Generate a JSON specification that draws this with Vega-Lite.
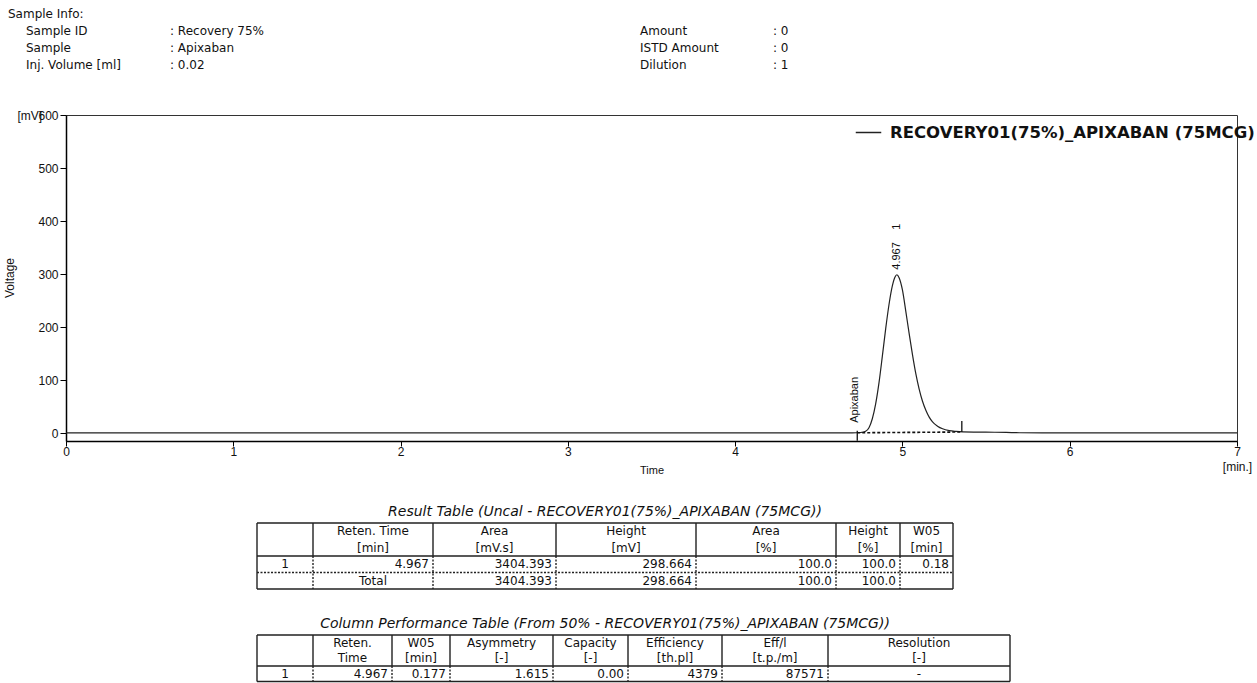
{
  "$schema": "https://vega.github.io/schema/vega-lite/v6.json",
  "background": "white",
  "padding": {"left": 3, "top": 0, "right": 0, "bottom": 0},
  "spacing": 0,
  "bounds": "flush",
  "datasets": {
    "info": [
      {"row": 0, "col": 0, "text": "Sample Info:"},
      {"row": 1, "col": 1, "text": "Sample ID"},
      {"row": 1, "col": 2, "text": ": Recovery 75%"},
      {"row": 1, "col": 3, "text": "Amount"},
      {"row": 1, "col": 4, "text": ": 0"},
      {"row": 2, "col": 1, "text": "Sample"},
      {"row": 2, "col": 2, "text": ": Apixaban"},
      {"row": 2, "col": 3, "text": "ISTD Amount"},
      {"row": 2, "col": 4, "text": ": 0"},
      {"row": 3, "col": 1, "text": "Inj. Volume [ml]"},
      {"row": 3, "col": 2, "text": ": 0.02"},
      {"row": 3, "col": 3, "text": "Dilution"},
      {"row": 3, "col": 4, "text": ": 1"}
    ],
    "trace": [
      {"t": 0.0, "mv": 0.3, "series": "RECOVERY01(75%)_APIXABAN (75MCG)"},
      {"t": 0.5, "mv": 0.3, "series": "RECOVERY01(75%)_APIXABAN (75MCG)"},
      {"t": 1.0, "mv": 0.2, "series": "RECOVERY01(75%)_APIXABAN (75MCG)"},
      {"t": 1.5, "mv": 0.3, "series": "RECOVERY01(75%)_APIXABAN (75MCG)"},
      {"t": 2.0, "mv": 0.2, "series": "RECOVERY01(75%)_APIXABAN (75MCG)"},
      {"t": 2.5, "mv": 0.3, "series": "RECOVERY01(75%)_APIXABAN (75MCG)"},
      {"t": 3.0, "mv": 0.2, "series": "RECOVERY01(75%)_APIXABAN (75MCG)"},
      {"t": 3.5, "mv": 0.3, "series": "RECOVERY01(75%)_APIXABAN (75MCG)"},
      {"t": 4.0, "mv": 0.3, "series": "RECOVERY01(75%)_APIXABAN (75MCG)"},
      {"t": 4.5, "mv": 0.4, "series": "RECOVERY01(75%)_APIXABAN (75MCG)"},
      {"t": 4.7, "mv": 0.5, "series": "RECOVERY01(75%)_APIXABAN (75MCG)"},
      {"t": 4.75, "mv": 1.0, "series": "RECOVERY01(75%)_APIXABAN (75MCG)"},
      {"t": 4.78, "mv": 3.5, "series": "RECOVERY01(75%)_APIXABAN (75MCG)"},
      {"t": 4.8, "mv": 10, "series": "RECOVERY01(75%)_APIXABAN (75MCG)"},
      {"t": 4.82, "mv": 27, "series": "RECOVERY01(75%)_APIXABAN (75MCG)"},
      {"t": 4.84, "mv": 55, "series": "RECOVERY01(75%)_APIXABAN (75MCG)"},
      {"t": 4.86, "mv": 95, "series": "RECOVERY01(75%)_APIXABAN (75MCG)"},
      {"t": 4.88, "mv": 145, "series": "RECOVERY01(75%)_APIXABAN (75MCG)"},
      {"t": 4.9, "mv": 197, "series": "RECOVERY01(75%)_APIXABAN (75MCG)"},
      {"t": 4.92, "mv": 243, "series": "RECOVERY01(75%)_APIXABAN (75MCG)"},
      {"t": 4.94, "mv": 278, "series": "RECOVERY01(75%)_APIXABAN (75MCG)"},
      {"t": 4.955, "mv": 294, "series": "RECOVERY01(75%)_APIXABAN (75MCG)"},
      {"t": 4.967, "mv": 298.664, "series": "RECOVERY01(75%)_APIXABAN (75MCG)"},
      {"t": 4.98, "mv": 293, "series": "RECOVERY01(75%)_APIXABAN (75MCG)"},
      {"t": 5.0, "mv": 270, "series": "RECOVERY01(75%)_APIXABAN (75MCG)"},
      {"t": 5.02, "mv": 230, "series": "RECOVERY01(75%)_APIXABAN (75MCG)"},
      {"t": 5.04, "mv": 188, "series": "RECOVERY01(75%)_APIXABAN (75MCG)"},
      {"t": 5.06, "mv": 148, "series": "RECOVERY01(75%)_APIXABAN (75MCG)"},
      {"t": 5.08, "mv": 112, "series": "RECOVERY01(75%)_APIXABAN (75MCG)"},
      {"t": 5.1, "mv": 83, "series": "RECOVERY01(75%)_APIXABAN (75MCG)"},
      {"t": 5.12, "mv": 60, "series": "RECOVERY01(75%)_APIXABAN (75MCG)"},
      {"t": 5.14, "mv": 43, "series": "RECOVERY01(75%)_APIXABAN (75MCG)"},
      {"t": 5.16, "mv": 30, "series": "RECOVERY01(75%)_APIXABAN (75MCG)"},
      {"t": 5.18, "mv": 21, "series": "RECOVERY01(75%)_APIXABAN (75MCG)"},
      {"t": 5.21, "mv": 13, "series": "RECOVERY01(75%)_APIXABAN (75MCG)"},
      {"t": 5.24, "mv": 8, "series": "RECOVERY01(75%)_APIXABAN (75MCG)"},
      {"t": 5.28, "mv": 4.5, "series": "RECOVERY01(75%)_APIXABAN (75MCG)"},
      {"t": 5.32, "mv": 3.0, "series": "RECOVERY01(75%)_APIXABAN (75MCG)"},
      {"t": 5.36, "mv": 2.2, "series": "RECOVERY01(75%)_APIXABAN (75MCG)"},
      {"t": 5.45, "mv": 1.8, "series": "RECOVERY01(75%)_APIXABAN (75MCG)"},
      {"t": 5.55, "mv": 1.5, "series": "RECOVERY01(75%)_APIXABAN (75MCG)"},
      {"t": 5.62, "mv": 1.2, "series": "RECOVERY01(75%)_APIXABAN (75MCG)"},
      {"t": 5.7, "mv": 0.6, "series": "RECOVERY01(75%)_APIXABAN (75MCG)"},
      {"t": 6.0, "mv": 0.4, "series": "RECOVERY01(75%)_APIXABAN (75MCG)"},
      {"t": 6.5, "mv": 0.3, "series": "RECOVERY01(75%)_APIXABAN (75MCG)"},
      {"t": 7.0, "mv": 0.3, "series": "RECOVERY01(75%)_APIXABAN (75MCG)"}
    ],
    "peaks": [
      {"id": 1, "name": "Apixaban", "rt": 4.967, "height": 298.664, "start": 4.73, "startLevel": 0.5, "end": 5.355, "endLevel": 2.0}
    ],
    "resultCells": [
      {"kind": "head", "col": 1, "line": 0, "text": "Reten. Time"},
      {"kind": "head", "col": 2, "line": 0, "text": "Area"},
      {"kind": "head", "col": 3, "line": 0, "text": "Height"},
      {"kind": "head", "col": 4, "line": 0, "text": "Area"},
      {"kind": "head", "col": 5, "line": 0, "text": "Height"},
      {"kind": "head", "col": 6, "line": 0, "text": "W05"},
      {"kind": "head", "col": 1, "line": 1, "text": "[min]"},
      {"kind": "head", "col": 2, "line": 1, "text": "[mV.s]"},
      {"kind": "head", "col": 3, "line": 1, "text": "[mV]"},
      {"kind": "head", "col": 4, "line": 1, "text": "[%]"},
      {"kind": "head", "col": 5, "line": 1, "text": "[%]"},
      {"kind": "head", "col": 6, "line": 1, "text": "[min]"},
      {"kind": "label", "col": 0, "line": 2, "text": "1"},
      {"kind": "value", "col": 1, "line": 2, "text": "4.967"},
      {"kind": "value", "col": 2, "line": 2, "text": "3404.393"},
      {"kind": "value", "col": 3, "line": 2, "text": "298.664"},
      {"kind": "value", "col": 4, "line": 2, "text": "100.0"},
      {"kind": "value", "col": 5, "line": 2, "text": "100.0"},
      {"kind": "value", "col": 6, "line": 2, "text": "0.18"},
      {"kind": "label", "col": 1, "line": 3, "text": "Total"},
      {"kind": "value", "col": 2, "line": 3, "text": "3404.393"},
      {"kind": "value", "col": 3, "line": 3, "text": "298.664"},
      {"kind": "value", "col": 4, "line": 3, "text": "100.0"},
      {"kind": "value", "col": 5, "line": 3, "text": "100.0"}
    ],
    "resultGrid": [
      {"part": "frame", "c1": 0, "c2": 7, "r1": -0.5, "r2": -0.5},
      {"part": "frame", "c1": 0, "c2": 7, "r1": 1.5, "r2": 1.5},
      {"part": "frame", "c1": 0, "c2": 7, "r1": 3.5, "r2": 3.5},
      {"part": "frame", "c1": 0, "c2": 0, "r1": -0.5, "r2": 3.5},
      {"part": "frame", "c1": 7, "c2": 7, "r1": -0.5, "r2": 3.5},
      {"part": "frame", "c1": 1, "c2": 1, "r1": -0.5, "r2": 1.5},
      {"part": "frame", "c1": 2, "c2": 2, "r1": -0.5, "r2": 1.5},
      {"part": "frame", "c1": 3, "c2": 3, "r1": -0.5, "r2": 1.5},
      {"part": "frame", "c1": 4, "c2": 4, "r1": -0.5, "r2": 1.5},
      {"part": "frame", "c1": 5, "c2": 5, "r1": -0.5, "r2": 1.5},
      {"part": "frame", "c1": 6, "c2": 6, "r1": -0.5, "r2": 1.5},
      {"part": "body", "c1": 0, "c2": 7, "r1": 2.5, "r2": 2.5},
      {"part": "body", "c1": 1, "c2": 1, "r1": 1.5, "r2": 3.5},
      {"part": "body", "c1": 2, "c2": 2, "r1": 1.5, "r2": 3.5},
      {"part": "body", "c1": 3, "c2": 3, "r1": 1.5, "r2": 3.5},
      {"part": "body", "c1": 4, "c2": 4, "r1": 1.5, "r2": 3.5},
      {"part": "body", "c1": 5, "c2": 5, "r1": 1.5, "r2": 3.5},
      {"part": "body", "c1": 6, "c2": 6, "r1": 1.5, "r2": 3.5}
    ],
    "perfCells": [
      {"kind": "head", "col": 1, "line": 0, "text": "Reten."},
      {"kind": "head", "col": 2, "line": 0, "text": "W05"},
      {"kind": "head", "col": 3, "line": 0, "text": "Asymmetry"},
      {"kind": "head", "col": 4, "line": 0, "text": "Capacity"},
      {"kind": "head", "col": 5, "line": 0, "text": "Efficiency"},
      {"kind": "head", "col": 6, "line": 0, "text": "Eff/l"},
      {"kind": "head", "col": 7, "line": 0, "text": "Resolution"},
      {"kind": "head", "col": 1, "line": 1, "text": "Time"},
      {"kind": "head", "col": 2, "line": 1, "text": "[min]"},
      {"kind": "head", "col": 3, "line": 1, "text": "[-]"},
      {"kind": "head", "col": 4, "line": 1, "text": "[-]"},
      {"kind": "head", "col": 5, "line": 1, "text": "[th.pl]"},
      {"kind": "head", "col": 6, "line": 1, "text": "[t.p./m]"},
      {"kind": "head", "col": 7, "line": 1, "text": "[-]"},
      {"kind": "label", "col": 0, "line": 2, "text": "1"},
      {"kind": "value", "col": 1, "line": 2, "text": "4.967"},
      {"kind": "value", "col": 2, "line": 2, "text": "0.177"},
      {"kind": "value", "col": 3, "line": 2, "text": "1.615"},
      {"kind": "value", "col": 4, "line": 2, "text": "0.00"},
      {"kind": "value", "col": 5, "line": 2, "text": "4379"},
      {"kind": "value", "col": 6, "line": 2, "text": "87571"},
      {"kind": "label", "col": 7, "line": 2, "text": "-"}
    ],
    "perfGrid": [
      {"part": "frame", "c1": 0, "c2": 8, "r1": -0.5, "r2": -0.5},
      {"part": "frame", "c1": 0, "c2": 8, "r1": 1.5, "r2": 1.5},
      {"part": "frame", "c1": 0, "c2": 8, "r1": 2.5, "r2": 2.5},
      {"part": "frame", "c1": 0, "c2": 0, "r1": -0.5, "r2": 2.5},
      {"part": "frame", "c1": 8, "c2": 8, "r1": -0.5, "r2": 2.5},
      {"part": "frame", "c1": 1, "c2": 1, "r1": -0.5, "r2": 1.5},
      {"part": "frame", "c1": 2, "c2": 2, "r1": -0.5, "r2": 1.5},
      {"part": "frame", "c1": 3, "c2": 3, "r1": -0.5, "r2": 1.5},
      {"part": "frame", "c1": 4, "c2": 4, "r1": -0.5, "r2": 1.5},
      {"part": "frame", "c1": 5, "c2": 5, "r1": -0.5, "r2": 1.5},
      {"part": "frame", "c1": 6, "c2": 6, "r1": -0.5, "r2": 1.5},
      {"part": "frame", "c1": 7, "c2": 7, "r1": -0.5, "r2": 1.5},
      {"part": "body", "c1": 1, "c2": 1, "r1": 1.5, "r2": 2.5},
      {"part": "body", "c1": 2, "c2": 2, "r1": 1.5, "r2": 2.5},
      {"part": "body", "c1": 3, "c2": 3, "r1": 1.5, "r2": 2.5},
      {"part": "body", "c1": 4, "c2": 4, "r1": 1.5, "r2": 2.5},
      {"part": "body", "c1": 5, "c2": 5, "r1": 1.5, "r2": 2.5},
      {"part": "body", "c1": 6, "c2": 6, "r1": 1.5, "r2": 2.5},
      {"part": "body", "c1": 7, "c2": 7, "r1": 1.5, "r2": 2.5}
    ]
  },
  "vconcat": [
    {
      "width": 1171,
      "height": 115,
      "data": {"name": "info"},
      "mark": {"type": "text", "align": "left", "baseline": "middle", "font": "DejaVu Sans", "fontSize": 12},
      "encoding": {
        "x": {"field": "col", "type": "quantitative", "axis": null,
              "scale": {"domain": [0, 1, 2, 3, 4], "range": [-58, -40, 104, 574, 707], "nice": false, "zero": false}},
        "y": {"field": "row", "type": "quantitative", "axis": null,
              "scale": {"domain": [0, 3], "range": [14, 65], "nice": false, "zero": false}},
        "text": {"field": "text"}
      }
    },
    {
      "width": 1171,
      "height": 326,
      "view": {"stroke": "#333", "strokeWidth": 1},
      "title": {"text": "Voltage", "orient": "left", "anchor": "middle", "offset": 0,
                "fontSize": 12, "fontWeight": "normal", "color": "#111"},
      "layer": [
        {
          "data": {"name": "trace"},
          "mark": {"type": "line", "strokeWidth": 1.2, "interpolate": "monotone"},
          "encoding": {
            "x": {"field": "t", "type": "quantitative",
                  "scale": {"domain": [0, 7], "nice": false, "zero": false},
                  "axis": {"title": "Time", "values": [0, 1, 2, 3, 4, 5, 6, 7], "format": "d",
                           "labelExpr": "datum.value == 7 ? ['7', '[min.]'] : datum.label",
                           "labelFlush": false, "labelOverlap": false, "labelBound": false,
                           "tickSize": 5, "labelPadding": 0, "labelFontSize": 12, "labelLineHeight": 15,
                           "labelColor": "#111", "tickColor": "#000", "domainColor": "#000", "domainWidth": 1.5,
                           "grid": false, "titleFontSize": 11, "titleFontWeight": "normal", "titleColor": "#111",
                           "titleY": 29, "titleBaseline": "middle"}},
            "y": {"field": "mv", "type": "quantitative",
                  "scale": {"domain": [-15, 600], "nice": false, "zero": false},
                  "axis": {"title": "[mV]", "values": [0, 100, 200, 300, 400, 500, 600],
                           "tickSize": 6, "labelPadding": 2, "labelFontSize": 12, "labelColor": "#111",
                           "tickColor": "#000", "domainColor": "#000", "domainWidth": 1.5, "grid": false,
                           "titleAngle": 0, "titleX": -49, "titleY": 0, "titleAlign": "left",
                           "titleBaseline": "middle", "titleFontSize": 12, "titleFontWeight": "normal",
                           "titleColor": "#111"}},
            "stroke": {"field": "series", "type": "nominal", "scale": {"range": ["#222222"]},
                       "legend": {"title": null, "orient": "none", "legendX": 789, "legendY": 119,
                                  "symbolType": "stroke", "symbolSize": 650, "symbolStrokeWidth": 1.5,
                                  "labelFont": "DejaVu Sans", "labelFontWeight": "bold", "labelFontSize": 16.5,
                                  "labelColor": "#111", "labelOffset": 8, "labelLimit": 0, "padding": 0}}
          }
        },
        {
          "data": {"name": "peaks"},
          "mark": {"type": "rule", "color": "#111", "strokeWidth": 1.6, "strokeDash": [3, 2]},
          "encoding": {
            "x": {"field": "start", "type": "quantitative"},
            "x2": {"field": "end"},
            "y": {"field": "startLevel", "type": "quantitative"},
            "y2": {"field": "endLevel"}
          }
        },
        {
          "data": {"name": "peaks"},
          "mark": {"type": "rule", "color": "#111", "strokeWidth": 1.3, "yOffset": -2, "y2Offset": 8},
          "encoding": {
            "x": {"field": "start", "type": "quantitative"},
            "y": {"field": "startLevel", "type": "quantitative"},
            "y2": {"field": "startLevel"}
          }
        },
        {
          "data": {"name": "peaks"},
          "mark": {"type": "rule", "color": "#111", "strokeWidth": 1.3, "yOffset": -11, "y2Offset": 0},
          "encoding": {
            "x": {"field": "end", "type": "quantitative"},
            "y": {"field": "endLevel", "type": "quantitative"},
            "y2": {"field": "endLevel"}
          }
        },
        {
          "data": {"name": "peaks"},
          "mark": {"type": "text", "angle": 270, "align": "left", "baseline": "middle", "dx": 5, "fontSize": 11, "color": "#111"},
          "encoding": {
            "x": {"field": "rt", "type": "quantitative"},
            "y": {"field": "height", "type": "quantitative"},
            "text": {"field": "rt", "type": "quantitative", "format": ".3f"}
          }
        },
        {
          "data": {"name": "peaks"},
          "mark": {"type": "text", "angle": 270, "align": "left", "baseline": "middle", "dx": 45, "fontSize": 11, "color": "#111"},
          "encoding": {
            "x": {"field": "rt", "type": "quantitative"},
            "y": {"field": "height", "type": "quantitative"},
            "text": {"field": "id", "type": "nominal"}
          }
        },
        {
          "data": {"name": "peaks"},
          "mark": {"type": "text", "angle": 270, "align": "left", "baseline": "middle", "dx": 10, "dy": -2, "fontSize": 11, "color": "#111"},
          "encoding": {
            "x": {"field": "start", "type": "quantitative"},
            "y": {"field": "startLevel", "type": "quantitative"},
            "text": {"field": "name", "type": "nominal"}
          }
        }
      ]
    },
    {
      "width": 1171,
      "height": 159,
      "layer": [
        {
          "data": {"name": "resultGrid"},
          "mark": {"type": "rule", "color": "#222", "strokeWidth": 1.4},
          "encoding": {
            "x": {"field": "c1", "type": "quantitative", "axis": null,
                  "scale": {"domain": [0, 1, 2, 3, 4, 5, 6, 7], "range": [191, 247, 367, 490, 630, 770, 834, 887], "nice": false, "zero": false}},
            "x2": {"field": "c2"},
            "y": {"field": "r1", "type": "quantitative", "axis": null,
                  "scale": {"domain": [-0.5, 3.5], "range": [82, 148], "nice": false, "zero": false}},
            "y2": {"field": "r2"},
            "strokeDash": {"field": "part", "type": "nominal", "legend": null,
                           "scale": {"domain": ["frame", "body"], "range": [[1, 0], [2, 1.5]]}}
          }
        },
        {
          "data": {"name": "resultCells"},
          "transform": [{"filter": "datum.kind != 'value'"}],
          "mark": {"type": "text", "align": "center", "baseline": "middle", "font": "DejaVu Sans", "fontSize": 12, "color": "#111"},
          "encoding": {
            "x": {"field": "col", "type": "quantitative", "axis": null,
                  "scale": {"domain": [0, 1, 2, 3, 4, 5, 6], "range": [219, 307, 428.5, 560, 700, 802, 860.5], "nice": false, "zero": false}},
            "y": {"field": "line", "type": "quantitative", "axis": null,
                  "scale": {"domain": [-0.5, 3.5], "range": [82, 148], "nice": false, "zero": false}},
            "text": {"field": "text"}
          }
        },
        {
          "data": {"name": "resultCells"},
          "transform": [{"filter": "datum.kind == 'value'"}],
          "mark": {"type": "text", "align": "right", "baseline": "middle", "font": "DejaVu Sans", "fontSize": 12, "color": "#111"},
          "encoding": {
            "x": {"field": "col", "type": "quantitative", "axis": null,
                  "scale": {"domain": [0, 1, 2, 3, 4, 5, 6], "range": [243, 363, 486, 626, 766, 830, 883], "nice": false, "zero": false}},
            "y": {"field": "line", "type": "quantitative", "axis": null,
                  "scale": {"domain": [-0.5, 3.5], "range": [82, 148], "nice": false, "zero": false}},
            "text": {"field": "text"}
          }
        },
        {
          "data": {"values": [{"title": "Result Table (Uncal - RECOVERY01(75%)_APIXABAN (75MCG))"}]},
          "mark": {"type": "text", "align": "center", "baseline": "middle", "dy": -11, "font": "DejaVu Sans", "fontSize": 14, "fontStyle": "italic", "color": "#111"},
          "encoding": {
            "x": {"field": "title", "type": "nominal", "axis": null,
                  "scale": {"type": "band", "range": [191, 887], "paddingInner": 0, "paddingOuter": 0}},
            "y": {"datum": -0.5, "type": "quantitative"},
            "text": {"field": "title"}
          }
        }
      ],
      "resolve": {"scale": {"x": "independent"}}
    },
    {
      "width": 1171,
      "height": 83,
      "layer": [
        {
          "data": {"name": "perfGrid"},
          "mark": {"type": "rule", "color": "#222", "strokeWidth": 1.4},
          "encoding": {
            "x": {"field": "c1", "type": "quantitative", "axis": null,
                  "scale": {"domain": [0, 1, 2, 3, 4, 5, 6, 7, 8], "range": [191, 247, 326, 384, 487, 562, 656, 762, 944], "nice": false, "zero": false}},
            "x2": {"field": "c2"},
            "y": {"field": "r1", "type": "quantitative", "axis": null,
                  "scale": {"domain": [-0.5, 2.5], "range": [35, 81.5], "nice": false, "zero": false}},
            "y2": {"field": "r2"},
            "strokeDash": {"field": "part", "type": "nominal", "legend": null,
                           "scale": {"domain": ["frame", "body"], "range": [[1, 0], [2, 1.5]]}}
          }
        },
        {
          "data": {"name": "perfCells"},
          "transform": [{"filter": "datum.kind != 'value'"}],
          "mark": {"type": "text", "align": "center", "baseline": "middle", "font": "DejaVu Sans", "fontSize": 12, "color": "#111"},
          "encoding": {
            "x": {"field": "col", "type": "quantitative", "axis": null,
                  "scale": {"domain": [0, 1, 2, 3, 4, 5, 6, 7], "range": [219, 286.5, 355, 435.5, 524.5, 609, 709, 853], "nice": false, "zero": false}},
            "y": {"field": "line", "type": "quantitative", "axis": null,
                  "scale": {"domain": [-0.5, 2.5], "range": [35, 81.5], "nice": false, "zero": false}},
            "text": {"field": "text"}
          }
        },
        {
          "data": {"name": "perfCells"},
          "transform": [{"filter": "datum.kind == 'value'"}],
          "mark": {"type": "text", "align": "right", "baseline": "middle", "font": "DejaVu Sans", "fontSize": 12, "color": "#111"},
          "encoding": {
            "x": {"field": "col", "type": "quantitative", "axis": null,
                  "scale": {"domain": [0, 1, 2, 3, 4, 5, 6, 7], "range": [243, 322, 380, 483, 558, 652, 758, 940], "nice": false, "zero": false}},
            "y": {"field": "line", "type": "quantitative", "axis": null,
                  "scale": {"domain": [-0.5, 2.5], "range": [35, 81.5], "nice": false, "zero": false}},
            "text": {"field": "text"}
          }
        },
        {
          "data": {"values": [{"title": "Column Performance Table (From 50% - RECOVERY01(75%)_APIXABAN (75MCG))"}]},
          "mark": {"type": "text", "align": "center", "baseline": "middle", "dy": -11, "font": "DejaVu Sans", "fontSize": 14, "fontStyle": "italic", "color": "#111"},
          "encoding": {
            "x": {"field": "title", "type": "nominal", "axis": null,
                  "scale": {"type": "band", "range": [191, 887], "paddingInner": 0, "paddingOuter": 0}},
            "y": {"datum": -0.5, "type": "quantitative"},
            "text": {"field": "title"}
          }
        }
      ],
      "resolve": {"scale": {"x": "independent"}}
    }
  ],
  "config": {
    "view": {"stroke": null},
    "font": "Liberation Sans",
    "text": {"font": "Liberation Sans", "fontSize": 11, "color": "#111"},
    "axis": {"labelFont": "Liberation Sans", "titleFont": "Liberation Sans"},
    "title": {"font": "Liberation Sans"}
  }
}
